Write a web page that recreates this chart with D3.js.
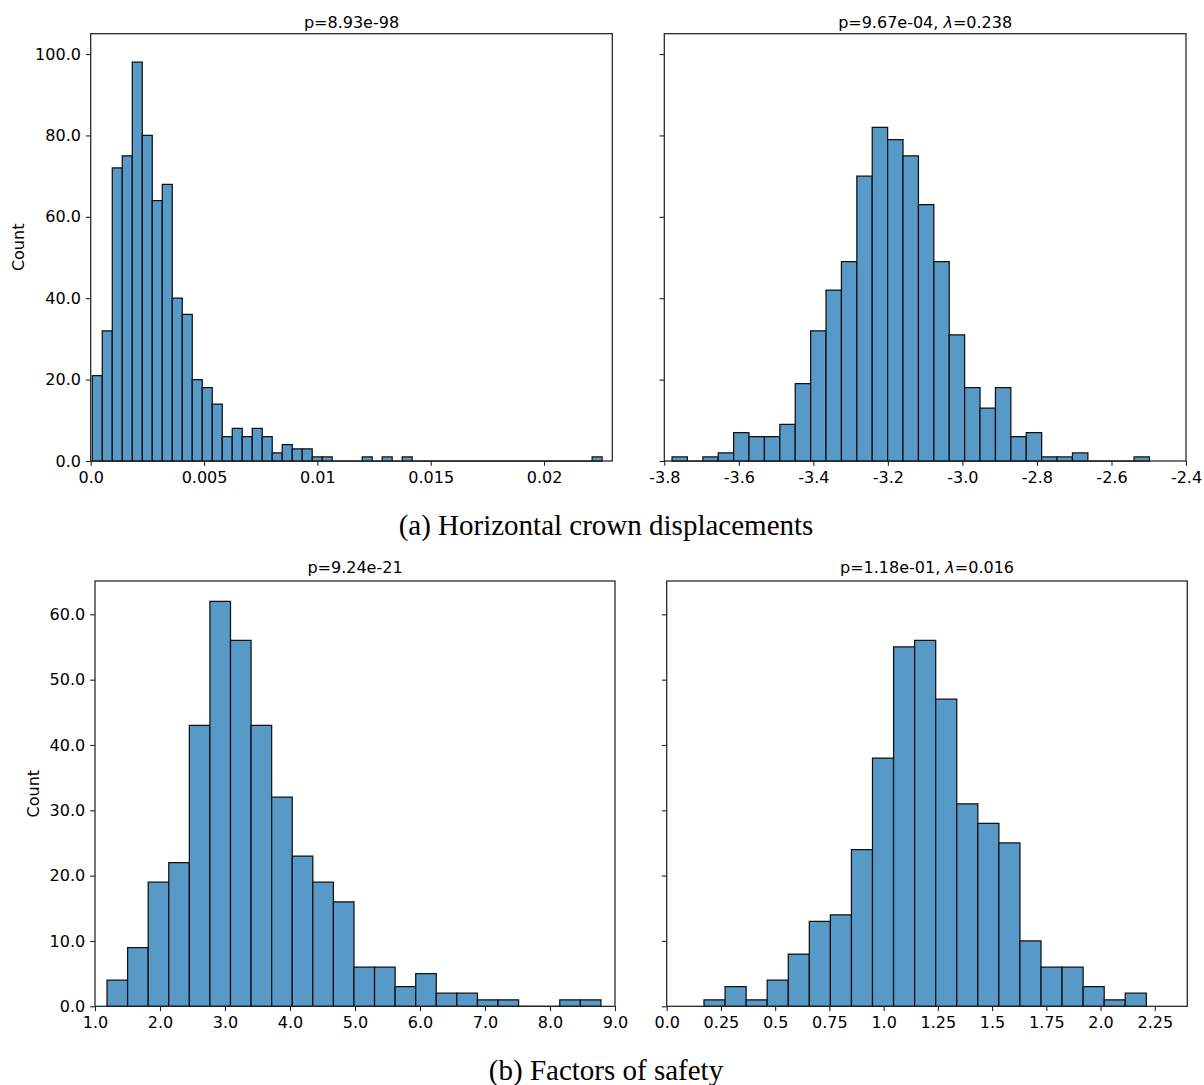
<!DOCTYPE html>
<html>
<head>
<meta charset="utf-8">
<script src="https://cdn.jsdelivr.net/npm/d3@7"></script>
<style>
  html, body { margin: 0; padding: 0; background: #fff; }
  svg { display: block; }
</style>
</head>
<body>
<svg id="chart" width="1204" height="1085"></svg>
<script>
// ---------------- DATA ----------------
// (a) Horizontal crown displacements — raw values
const topLeftTitle = "p=8.93e-98";
const topLeftBinStart = 0.00007;
const topLeftBinWidth = 0.000441;
const topLeftCounts = [21,32,72,75,98,80,64,68,40,36,20,18,14,6,8,6,8,6,2,4,3,3,1,1,0,0,0,1,0,1,0,1,
  0,0,0,0,0,0,0,0,0,0,0,0,0,0,0,0,0,0,1];
const topLeftXDomain = [0, 0.02301];
const topLeftXTicks = [0, 0.005, 0.01, 0.015, 0.02];
const topLeftXTickLabels = ["0.0", "0.005", "0.01", "0.015", "0.02"];

// (a) Box-Cox transformed
const topRightTitleP = "p=9.67e-04, ";
const topRightTitleLambda = "0.238";
const topRightBinStart = -3.7793;
const topRightBinWidth = 0.04133;
const topRightCounts = [1,0,1,2,7,6,6,9,19,32,42,49,70,82,79,75,63,49,31,18,13,18,6,7,1,1,2,0,0,0,1];
const topRightXDomain = [-3.8, -2.4];
const topRightXTicks = [-3.8, -3.6, -3.4, -3.2, -3.0, -2.8, -2.6, -2.4];
const topRightXTickLabels = ["-3.8", "-3.6", "-3.4", "-3.2", "-3.0", "-2.8", "-2.6", "-2.4"];

const topYDomain = [0, 105];
const topYTicks = [0, 20, 40, 60, 80, 100];
const topYTickLabels = ["0.0", "20.0", "40.0", "60.0", "80.0", "100.0"];

// (b) Factors of safety — raw values
const bottomLeftTitle = "p=9.24e-21";
const bottomLeftBinStart = 1.185;
const bottomLeftBinWidth = 0.3166;
const bottomLeftCounts = [4,9,19,22,43,62,56,43,32,23,19,16,6,6,3,5,2,2,1,1,0,0,1,1];
const bottomLeftXDomain = [1, 9];
const bottomLeftXTicks = [1, 2, 3, 4, 5, 6, 7, 8, 9];
const bottomLeftXTickLabels = ["1.0", "2.0", "3.0", "4.0", "5.0", "6.0", "7.0", "8.0", "9.0"];

// (b) Box-Cox transformed
const bottomRightTitleP = "p=1.18e-01, ";
const bottomRightTitleLambda = "0.016";
const bottomRightBinStart = 0.172;
const bottomRightBinWidth = 0.0971;
const bottomRightCounts = [1,3,1,4,8,13,14,24,38,55,56,47,31,28,25,10,6,6,3,1,2];
const bottomRightXDomain = [0, 2.4];
const bottomRightXTicks = [0, 0.25, 0.5, 0.75, 1.0, 1.25, 1.5, 1.75, 2.0, 2.25];
const bottomRightXTickLabels = ["0.0", "0.25", "0.5", "0.75", "1.0", "1.25", "1.5", "1.75", "2.0", "2.25"];

const bottomYDomain = [0, 65.1];
const bottomYTicks = [0, 10, 20, 30, 40, 50, 60];
const bottomYTickLabels = ["0.0", "10.0", "20.0", "30.0", "40.0", "50.0", "60.0"];

const yLabel = "Count";
const captionA = "(a) Horizontal crown displacements";
const captionB = "(b) Factors of safety";

// ---------------- STYLE / LAYOUT ----------------
const FONT = "'DejaVu Sans', sans-serif";
const BAR_FILL = "rgb(87,153,199)";
const BAR_STROKE = "#111";
const SPINE = "#222";

const svg = d3.select("#chart");

function makeBins(start, width, counts) {
  return counts.map((c, i) => ({ x0: start + i * width, x1: start + (i + 1) * width, count: c }));
}

function panel(opt) {
  const g = svg.append("g");
  const x = d3.scaleLinear().domain(opt.xDomain).range([opt.left, opt.right]);
  const y = d3.scaleLinear().domain(opt.yDomain).range([opt.bottom, opt.top]);
  const bins = makeBins(opt.binStart, opt.binWidth, opt.counts);

  // bars (paths so zero-height bins still draw their outline on the baseline)
  g.append("g").selectAll("path").data(bins).join("path")
    .attr("d", d => {
      const x0 = x(d.x0), x1 = x(d.x1), y0 = y(0), y1 = y(d.count);
      return `M${x0},${y0}V${y1}H${x1}V${y0}Z`;
    })
    .attr("fill", BAR_FILL)
    .attr("stroke", BAR_STROKE)
    .attr("stroke-width", 1.25)
    .attr("stroke-linejoin", "miter");

  // x axis
  const xAxis = d3.axisBottom(x)
    .tickValues(opt.xTicks)
    .tickFormat((d, i) => opt.xTickLabels[i])
    .tickSizeInner(4.8).tickSizeOuter(0).tickPadding(6);
  const gx = g.append("g").attr("transform", `translate(0,${opt.bottom})`).call(xAxis);
  gx.select(".domain").remove();
  gx.selectAll("line").attr("stroke", SPINE).attr("stroke-width", 1.1);
  gx.selectAll("text").attr("font-family", FONT).attr("font-size", 16).attr("fill", "#000");

  // y axis
  const yAxis = d3.axisLeft(y)
    .tickValues(opt.yTicks)
    .tickFormat((d, i) => opt.showYLabels ? opt.yTickLabels[i] : "")
    .tickSizeInner(4.8).tickSizeOuter(0).tickPadding(5);
  const gy = g.append("g").attr("transform", `translate(${opt.left},0)`).call(yAxis);
  gy.select(".domain").remove();
  gy.selectAll("line").attr("stroke", SPINE).attr("stroke-width", 1.1);
  gy.selectAll("text").attr("font-family", FONT).attr("font-size", 16).attr("fill", "#000");

  // spines
  g.append("rect")
    .attr("x", opt.left).attr("y", opt.top)
    .attr("width", opt.right - opt.left).attr("height", opt.bottom - opt.top)
    .attr("fill", "none").attr("stroke", SPINE).attr("stroke-width", 1.25);

  // title
  const t = g.append("text")
    .attr("x", (opt.left + opt.right) / 2).attr("y", opt.titleY)
    .attr("text-anchor", "middle")
    .attr("font-family", FONT).attr("font-size", 16).attr("fill", "#000");
  t.append("tspan").text(opt.titleP);
  if (opt.titleLambda) {
    t.append("tspan").attr("font-style", "italic").text("λ");
    t.append("tspan").text("=" + opt.titleLambda);
  }

  // y label
  if (opt.yLabelX) {
    const cy = (opt.top + opt.bottom) / 2;
    g.append("text")
      .attr("transform", `translate(${opt.yLabelX},${cy}) rotate(-90)`)
      .attr("text-anchor", "middle")
      .attr("font-family", FONT).attr("font-size", 16).attr("fill", "#000")
      .text(yLabel);
  }
}

panel({
  left: 90.7, right: 612.3, top: 33.7, bottom: 461,
  xDomain: topLeftXDomain, yDomain: topYDomain,
  binStart: topLeftBinStart, binWidth: topLeftBinWidth, counts: topLeftCounts,
  xTicks: topLeftXTicks, xTickLabels: topLeftXTickLabels,
  yTicks: topYTicks, yTickLabels: topYTickLabels, showYLabels: true,
  titleP: topLeftTitle, titleY: 27.5, yLabelX: 24
});
panel({
  left: 664.3, right: 1186, top: 33.7, bottom: 461,
  xDomain: topRightXDomain, yDomain: topYDomain,
  binStart: topRightBinStart, binWidth: topRightBinWidth, counts: topRightCounts,
  xTicks: topRightXTicks, xTickLabels: topRightXTickLabels,
  yTicks: topYTicks, yTickLabels: topYTickLabels, showYLabels: false,
  titleP: topRightTitleP, titleLambda: topRightTitleLambda, titleY: 27.5
});
panel({
  left: 95, right: 615, top: 581, bottom: 1006.3,
  xDomain: bottomLeftXDomain, yDomain: bottomYDomain,
  binStart: bottomLeftBinStart, binWidth: bottomLeftBinWidth, counts: bottomLeftCounts,
  xTicks: bottomLeftXTicks, xTickLabels: bottomLeftXTickLabels,
  yTicks: bottomYTicks, yTickLabels: bottomYTickLabels, showYLabels: true,
  titleP: bottomLeftTitle, titleY: 573.3, yLabelX: 39
});
panel({
  left: 666.7, right: 1187.3, top: 581, bottom: 1006.3,
  xDomain: bottomRightXDomain, yDomain: bottomYDomain,
  binStart: bottomRightBinStart, binWidth: bottomRightBinWidth, counts: bottomRightCounts,
  xTicks: bottomRightXTicks, xTickLabels: bottomRightXTickLabels,
  yTicks: bottomYTicks, yTickLabels: bottomYTickLabels, showYLabels: false,
  titleP: bottomRightTitleP, titleLambda: bottomRightTitleLambda, titleY: 573.3
});

// captions
svg.append("text")
  .attr("x", 606).attr("y", 534.5).attr("text-anchor", "middle")
  .attr("font-family", "'Liberation Serif', 'Times New Roman', serif")
  .attr("font-size", 29).attr("fill", "#000")
  .text(captionA);
svg.append("text")
  .attr("x", 606).attr("y", 1080).attr("text-anchor", "middle")
  .attr("font-family", "'Liberation Serif', 'Times New Roman', serif")
  .attr("font-size", 29).attr("fill", "#000")
  .text(captionB);
</script>
</body>
</html>
